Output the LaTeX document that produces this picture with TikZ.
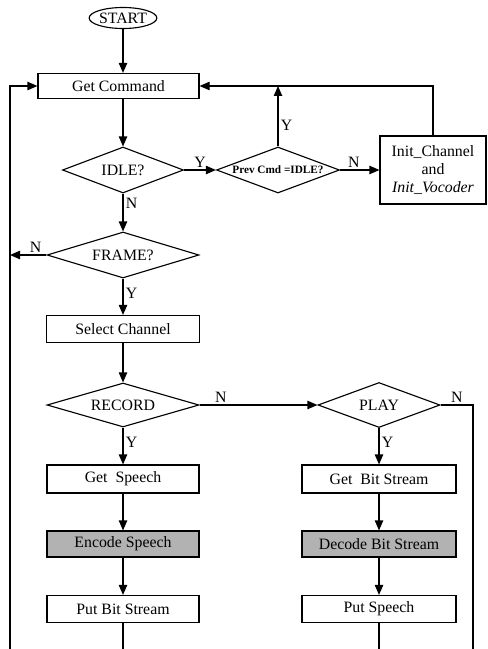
\documentclass[tikz,border=0pt]{standalone}
\usepackage{fontspec}
\setmainfont{Liberation Serif}
\usetikzlibrary{shapes.geometric, arrows.meta, positioning}

\begin{document}
\begin{tikzpicture}[
  font=\fontsize{22.5}{25.6}\selectfont,
  startstop/.style={ellipse, minimum width=3.25cm, minimum height=1.05cm, inner sep=0pt, draw=black, line width=1.6pt},
  process/.style={rectangle, minimum width=7.6cm, minimum height=1.35cm, text centered, align=center, draw=black, line width=1.6pt},
  shaded/.style={process, fill=black!30},
  decision/.style={diamond, aspect=3.3, minimum width=7.6cm, minimum height=2.3cm, inner sep=0pt, text centered, draw=black, line width=1.6pt},
  arrow/.style={line width=1.6pt, -{Triangle[length=0.5cm, width=0.42cm]}},
  line/.style={line width=1.6pt}]

  \useasboundingbox (0,0) rectangle (24.4,-32.45);

  % Nodes
  \node (start) [startstop] at (6.15,-0.9) {START};
  \node (cmd) [process, minimum width=8.05cm, minimum height=1.25cm, below of=start, xshift=-0.225cm, yshift=-2.4cm] {Get Command};
  \node (idle) [decision, minimum width=6.05cm, below of=cmd, xshift=0.225cm, yshift=-3.2cm] {IDLE?};
  \node (prev) [decision, minimum width=6.15cm, aspect=2.7, right of=idle, xshift=6.75cm] {\fontsize{16}{18}\selectfont\bfseries Prev Cmd =IDLE?};
  \node (init) [process, minimum width=5.3cm, minimum height=3.4cm, right of=prev, xshift=6.75cm] {Init\_Channel\\and\\\textit{Init\_Vocoder}};

  \node (frame) [decision, below of=idle, yshift=-3.25cm] {FRAME?};
  \node (select) [process, minimum width=7.65cm, below of=frame, yshift=-2.7cm] {Select Channel};
  \node (record) [decision, minimum height=2.2cm, below of=select, yshift=-2.8cm] {RECORD};
  \node (play) [decision, minimum width=6.1cm, minimum height=2.25cm, aspect=2.7, right of=record, xshift=11.8cm] {PLAY};

  \node (getsp) [process, minimum height=1.4cm, below of=record, yshift=-2.7cm] {Get~~Speech};
  \node (encode) [shaded, minimum height=1.3cm, below of=getsp, yshift=-2.25cm] {Encode Speech};
  \node (putbs) [process, below of=encode, yshift=-2.25cm] {Put Bit Stream};

  \node (getbs) [process, minimum width=7.7cm, minimum height=1.4cm, below of=play, yshift=-2.7cm] {Get~~Bit Stream};
  \node (decode) [shaded, minimum width=7.7cm, minimum height=1.3cm, below of=getbs, yshift=-2.25cm] {Decode Bit Stream};
  \node (putsp) [process, minimum width=7.7cm, below of=decode, yshift=-2.25cm] {Put Speech};

  \coordinate (lbot) at (0.5,-32.45);
  \coordinate (rbot) at (23.65,-32.45);

  % Arrows
  \draw [arrow] (start) -- (start |- cmd.north);
  \draw [arrow] (start |- cmd.south) -- (idle);
  \draw [arrow] (idle) -- node[above] {Y} (prev);
  \draw [arrow] (prev) -- node[right, pos=.35] {Y} (prev |- cmd.east);
  \draw [arrow] (prev) -- node[above, pos=.35] {N} (init);
  \draw [arrow] (init) |- (cmd.east);
  \draw [arrow] (idle) -- node[right, pos=.25] {N} (frame);
  \draw [arrow] (frame) -- node[above, pos=.3] {N} (frame.west -| lbot);
  \draw [arrow] (lbot) |- (cmd.west);
  \draw [arrow] (frame) -- node[right, pos=.4] {Y} (select);
  \draw [arrow] (select) -- (record);
  \draw [arrow] (record) -- node[above, pos=.18] {N} (play);
  \draw [line] (play.east) -| node[above, pos=.25] {N} (rbot);

  \draw [arrow] (record) -- node[right, pos=.4] {Y} (getsp);
  \draw [arrow] (getsp) -- (encode);
  \draw [arrow] (encode) -- (putbs);
  \draw [line] (putbs) -- (putbs |- lbot);

  \draw [arrow] (play) -- node[right, pos=.4] {Y} (getbs);
  \draw [arrow] (getbs) -- (decode);
  \draw [arrow] (decode) -- (putsp);
  \draw [line] (putsp) -- (putsp |- rbot);

\end{tikzpicture}
\end{document}
